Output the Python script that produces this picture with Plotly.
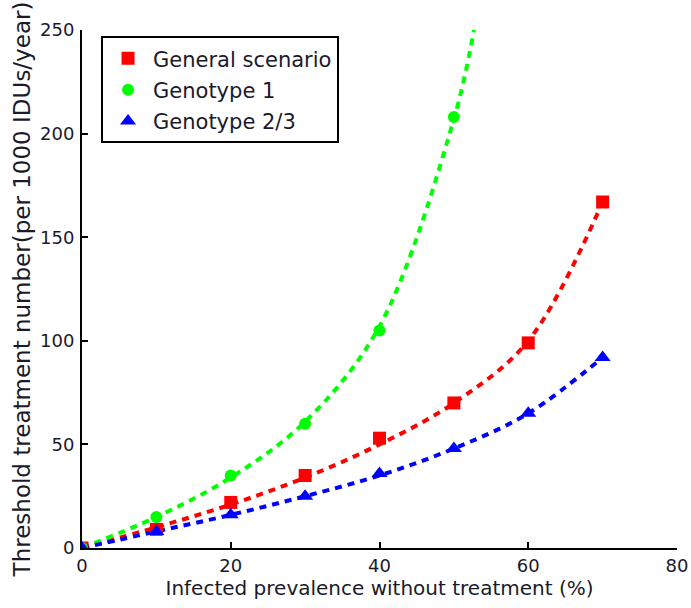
import plotly.graph_objects as go

prevalence = [0, 10, 20, 30, 40, 50, 60, 70]
general = [0, 9, 22, 35, 53, 70, 99, 167]
prev_g1 = [0, 10, 20, 30, 40, 50]
genotype1 = [0, 15, 35, 60, 105, 208]
genotype23 = [0, 8, 16, 25, 36, 48, 65, 92]

# fitted curves
fit_x_general = [0, 10, 20, 30, 40, 50, 60, 70]
fit_y_general = [0, 10, 21, 34, 50, 70, 100, 167]
fit_x_g1 = [0, 10, 20, 30, 40, 50, 52.7]
fit_y_g1 = [0, 15, 34, 61, 107, 207, 250]
fit_x_g23 = [0, 10, 20, 30, 40, 50, 60, 70]
fit_y_g23 = [0, 8, 16, 25, 35, 48, 65, 92]

RED, GREEN, BLUE = "#ff0000", "#00ff00", "#0000ff"
FONT = "DejaVu Sans, Liberation Sans, Arial, sans-serif"
TXT = "#1a1a2a"

fig = go.Figure()
for fx, fy, c in [(fit_x_general, fit_y_general, RED),
                  (fit_x_g1, fit_y_g1, GREEN),
                  (fit_x_g23, fit_y_g23, BLUE)]:
    fig.add_trace(go.Scatter(x=fx, y=fy, mode="lines", showlegend=False,
                             line=dict(color=c, width=4, dash="7px,6px", shape="spline"),
                             hoverinfo="skip"))

fig.add_trace(go.Scatter(x=prevalence, y=general, mode="markers", name="General scenario",
                         legendgroup="a",
                         marker=dict(symbol="square", size=13, color=RED)))
fig.add_trace(go.Scatter(x=prev_g1, y=genotype1, mode="markers", name="Genotype 1",
                         legendgroup="b",
                         marker=dict(symbol="circle", size=12, color=GREEN)))
fig.add_trace(go.Scatter(x=prevalence, y=genotype23, mode="markers", name="Genotype 2/3",
                         legendgroup="c",
                         marker=dict(symbol="triangle-up", size=14, color=BLUE)))

axis_common = dict(showgrid=False, zeroline=False, showline=True, linecolor="black",
                   linewidth=2, ticks="inside", ticklen=6, tickwidth=2, tickcolor="black",
                   tickfont=dict(family=FONT, size=18, color=TXT),
                   mirror=False, automargin=False)

fig.update_layout(
    width=691, height=608,
    margin=dict(l=82, r=14, t=30, b=60),
    plot_bgcolor="white", paper_bgcolor="white",
    font=dict(family=FONT, size=18, color=TXT),
    xaxis=dict(range=[0, 80], tickvals=[0, 20, 40, 60, 80],
               title=dict(text="Infected prevalence without treatment (%)",
                          font=dict(family=FONT, size=20, color=TXT), standoff=4),
               **axis_common),
    yaxis=dict(range=[0, 250], tickvals=[0, 50, 100, 150, 200, 250],
               title=dict(text="Threshold treatment number(per 1000 IDUs/year)",
                          font=dict(family=FONT, size=23, color=TXT), standoff=3),
               ticklabelstandoff=2,
               **axis_common),
    legend=dict(x=0.032, y=0.988, xanchor="left", yanchor="top",
                bordercolor="black", borderwidth=2, bgcolor="white",
                font=dict(family=FONT, size=21, color=TXT),
                itemwidth=40, traceorder="grouped", tracegroupgap=1),
    showlegend=True,
)

fig.write_html("out.html")
